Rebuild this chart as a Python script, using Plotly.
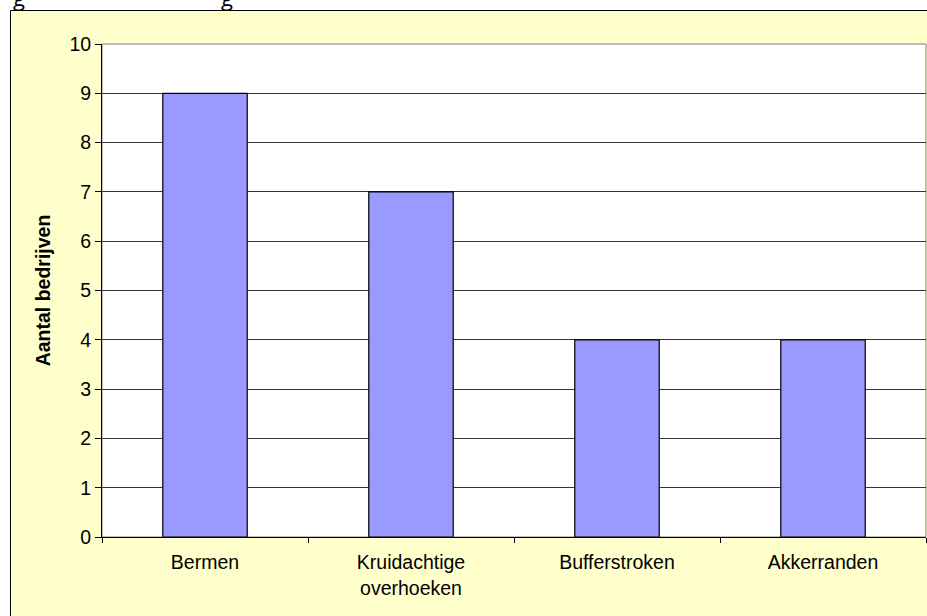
import plotly.graph_objects as go

# data
categories = ["Bermen", "Kruidachtige<br>overhoeken", "Bufferstroken", "Akkerranden"]
aantal = [9, 7, 4, 4]
y_ticks = list(range(0, 11))

W, H = 927, 616
ml, mr, mt, mb = 102, 1, 44, 79
pw, ph = W - ml - mr, H - mt - mb


def px_x(x):
    return (x - ml) / pw


def px_y(y):
    return (H - mb - y) / ph


fig = go.Figure()
fig.add_trace(go.Bar(
    x=categories, y=aantal,
    marker=dict(color="#9999FF", line=dict(color="black", width=1.2)),
    width=0.41,
    hoverinfo="skip",
))

font = "Arial, Liberation Sans, sans-serif"
cap_font = dict(family="Open Sans", size=22, color="black")

fig.update_layout(
    width=W, height=H,
    margin=dict(l=ml, r=mr, t=mt, b=mb),
    paper_bgcolor="white",
    plot_bgcolor="rgba(0,0,0,0)",
    font=dict(family=font, size=19.5, color="black"),
    showlegend=False,
    shapes=[
        # yellow chart area with black frame
        dict(type="rect", xref="paper", yref="paper", layer="below",
             x0=px_x(10.5), x1=px_x(940), y0=px_y(630), y1=px_y(10.5),
             fillcolor="#FFFFCC", line=dict(color="black", width=1)),
        # white plot area
        dict(type="rect", xref="paper", yref="paper", layer="below",
             x0=0, x1=1, y0=0, y1=1,
             fillcolor="white", line=dict(color="#808080", width=1)),
    ],
    annotations=[
        # fragments of the caption cut off at the top of the image
        dict(text="g", xref="paper", yref="paper", x=px_x(11), y=px_y(14),
             xanchor="left", yanchor="bottom", showarrow=False, font=cap_font),
        dict(text="g", xref="paper", yref="paper", x=px_x(219), y=px_y(14),
             xanchor="left", yanchor="bottom", showarrow=False, font=cap_font),
    ],
)

fig.update_yaxes(
    range=[0, 10], tickvals=y_ticks,
    showgrid=True, gridcolor="#333333", gridwidth=1,
    showline=True, linecolor="black", linewidth=1,
    ticks="outside", ticklen=6, tickcolor="black",
    zeroline=False,
    title=dict(text="<b>Aantal bedrijven</b>", standoff=13,
               font=dict(family=font, size=19.5)),
)
fig.update_xaxes(
    showline=True, linecolor="black", linewidth=1,
    ticks="outside", ticklen=5, tickcolor="black", tickson="boundaries",
    ticklabelstandoff=8,
    showgrid=False,
)

fig.write_html("out.html", config={"displayModeBar": False},
               post_script="document.body.style.margin='0';document.body.style.overflow='hidden';")
